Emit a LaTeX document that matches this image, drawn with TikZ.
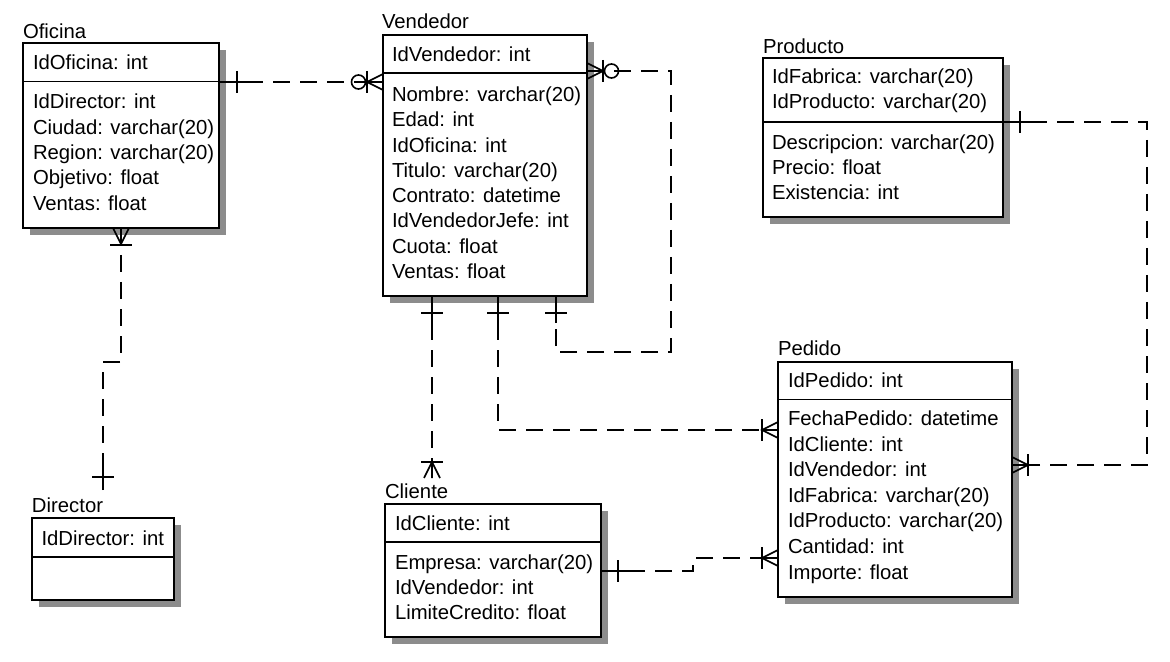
\documentclass[tikz,border=0pt]{standalone}
\usepackage{fontspec}
\setmainfont{Liberation Sans}
\usetikzlibrary{calc,fit}
\newcommand\erfont{\fontsize{10.15pt}{12pt}\selectfont}
\tikzset{
  ent/.style={draw, line width=0.8pt, fill=white, inner sep=0pt, outer sep=0pt},
  shadowfill/.style={fill=black!45},
  sepline/.style={line width=0.8pt},
  txt/.style={anchor=base west, inner sep=0pt, outer sep=0pt, font=\erfont},
  conn/.style={line width=0.8pt, dash pattern=on 8.5pt off 5pt},
  sym/.style={line width=0.8pt},
  onebar/.pic={\draw[sym] (0,-11) -- (0,11);},
  crowfoot/.pic={\draw[sym] (16,-8) -- (0,0) -- (16,8) (0,0) -- (16,0);},
  zerocirc/.pic={\draw[sym] (0,0) circle[radius=3.5pt];},
}
\begin{document}
\begin{tikzpicture}[x=0.5pt,y=-0.5pt]
\fill[white] (0,0) rectangle (1170,662);
\useasboundingbox (0,0) rectangle (1170,662);

% ---------- Oficina
\fill[shadowfill] (30,50) rectangle (226,235);
\node[ent, fit={(23,43)(219,228)}] (ofi) {};
\draw[sepline] (23,81.5) -- (219,81.5);
\node[txt] (ofiT) at (23,39) {Oficina};
\node[txt] (ofiK) at (33,70) {IdOficina: int};
\foreach \t [count=\i from 0] in {IdDirector: int, Ciudad: varchar(20), Region: varchar(20), Objetivo: float, Ventas: float}
  \node[txt] (ofiA\i) at (33,108.7+\i*25.4) {\t};

% ---------- Vendedor
\fill[shadowfill] (390,42) rectangle (594,303);
\node[ent, fit={(383,35)(587,296)}] (ven) {};
\draw[sepline] (383,73) -- (587,73);
\node[txt] (venT) at (382,29) {Vendedor};
\node[txt] (venK) at (392,62) {IdVendedor: int};
\foreach \t [count=\i from 0] in {Nombre: varchar(20), Edad: int, IdOficina: int, Titulo: varchar(20), Contrato: datetime, IdVendedorJefe: int, Cuota: float, Ventas: float}
  \node[txt] (venA\i) at (392,101.5+\i*25.3) {\t};

% ---------- Producto
\fill[shadowfill] (770,65) rectangle (1010,224);
\node[ent, fit={(763,58)(1003,217)}] (pro) {};
\draw[sepline] (763,122) -- (1003,122);
\node[txt] (proT) at (763,53.5) {Producto};
\foreach \t [count=\i from 0] in {IdFabrica: varchar(20), IdProducto: varchar(20)}
  \node[txt] (proK\i) at (772,84+\i*25) {\t};
\foreach \t [count=\i from 0] in {Descripcion: varchar(20), Precio: float, Existencia: int}
  \node[txt] (proA\i) at (772,150+\i*25) {\t};

% ---------- Director
\fill[shadowfill] (39,525) rectangle (181,607);
\node[ent, fit={(32,518)(174,600)}] (dir) {};
\draw[sepline] (32,557) -- (174,557);
\node[txt] (dirT) at (32,512) {Director};
\node[txt] (dirK) at (41.5,545) {IdDirector: int};

% ---------- Cliente
\fill[shadowfill] (392,511) rectangle (608,644);
\node[ent, fit={(385,504)(601,637)}] (cli) {};
\draw[sepline] (385,542) -- (601,542);
\node[txt] (cliT) at (385,498) {Cliente};
\node[txt] (cliK) at (395,530) {IdCliente: int};
\foreach \t [count=\i from 0] in {Empresa: varchar(20), IdVendedor: int, LimiteCredito: float}
  \node[txt] (cliA\i) at (395,569.5+\i*25) {\t};

% ---------- Pedido
\fill[shadowfill] (785,369) rectangle (1019,604);
\node[ent, fit={(778,362)(1012,597)}] (ped) {};
\draw[sepline] (778,399.5) -- (1012,399.5);
\node[txt] (pedT) at (778,355) {Pedido};
\node[txt] (pedK) at (788,387.5) {IdPedido: int};
\foreach \t [count=\i from 0] in {FechaPedido: datetime, IdCliente: int, IdVendedor: int, IdFabrica: varchar(20), IdProducto: varchar(20), Cantidad: int, Importe: float}
  \node[txt] (pedA\i) at (788,425.5+\i*25.6) {\t};

% ---------- Connectors
% Oficina - Vendedor
\coordinate (e1a) at ($(ofi.north east)+(0,39)$);
\coordinate (e1b) at ($(ven.north west)+(0,47)$);
\draw[conn] (e1a) -- (e1b);
\draw[sym] (e1a) -- ++(28,0);
\pic at ($(e1a)+(18,0)$) {onebar};
\pic at ($(e1b)+(-16,0)$) {crowfoot};
\pic at ($(e1b)+(-16,0)$) {onebar};
\pic at ($(e1b)+(-24.5,0)$) {zerocirc};

% Oficina - Director
\coordinate (e2a) at (ofi.south);
\coordinate (e2b) at ($(dir.north)+(0,-28)$);
\draw[conn] (e2a) -- ++(0,134) -| (e2b);
\draw[sym] (e2b) -- ++(0,-26);
\pic[rotate=90] at ($(e2a)+(0,16)$) {crowfoot};
\pic[rotate=90] at ($(e2a)+(0,17)$) {onebar};
\pic[rotate=90] at ($(e2b)+(0,-13)$) {onebar};

% Vendedor - Vendedor (jefe)
\coordinate (e3a) at ($(ven.north east)+(0,36)$);
\coordinate (e3b) at ($(ven.south east)+(-31,0)$);
\draw[conn] (e3a) -- ++(84,0) -- ++(0,281) -| (e3b);
\draw[sym] (e3b) -- ++(0,27);
\pic[rotate=180] at ($(e3a)+(16,0)$) {crowfoot};
\pic at ($(e3a)+(16,0)$) {onebar};
\pic at ($(e3a)+(24.5,0)$) {zerocirc};
\pic[rotate=90] at ($(e3b)+(0,17)$) {onebar};

% Vendedor - Cliente
\coordinate (e4a) at ($(ven.south west)+(49,0)$);
\coordinate (e4b) at ($(cli.north west)+(47,-27)$);
\draw[conn] (e4a) -- (e4b);
\draw[sym] (e4a) -- ++(0,27);
\pic[rotate=90] at ($(e4a)+(0,17)$) {onebar};
\pic[rotate=-90] at ($(e4b)+(0,-15)$) {crowfoot};
\pic[rotate=90] at ($(e4b)+(0,-15)$) {onebar};

% Vendedor - Pedido
\coordinate (e5a) at ($(ven.south west)+(115,0)$);
\coordinate (e5b) at ($(ped.north west)+(0,68)$);
\draw[conn] (e5a) |- (e5b);
\draw[sym] (e5a) -- ++(0,27);
\pic[rotate=90] at ($(e5a)+(0,17)$) {onebar};
\pic at ($(e5b)+(-16,0)$) {crowfoot};
\pic at ($(e5b)+(-16,0)$) {onebar};

% Cliente - Pedido
\coordinate (e6a) at ($(cli.north east)+(0,67)$);
\coordinate (e6b) at ($(ped.north west)+(0,196)$);
\draw[conn] (e6a) -- ++(92,0) |- (e6b);
\draw[sym] (e6a) -- ++(27,0);
\pic at ($(e6a)+(17,0)$) {onebar};
\pic at ($(e6b)+(-16,0)$) {crowfoot};
\pic at ($(e6b)+(-16,0)$) {onebar};

% Producto - Pedido
\coordinate (e7a) at ($(pro.north east)+(0,64)$);
\coordinate (e7b) at ($(ped.north east)+(0,103)$);
\draw[conn] (e7a) -- ++(144,0) |- (e7b);
\draw[sym] (e7a) -- ++(27,0);
\pic at ($(e7a)+(17,0)$) {onebar};
\pic[rotate=180] at ($(e7b)+(16,0)$) {crowfoot};
\pic at ($(e7b)+(16,0)$) {onebar};
\end{tikzpicture}
\end{document}
